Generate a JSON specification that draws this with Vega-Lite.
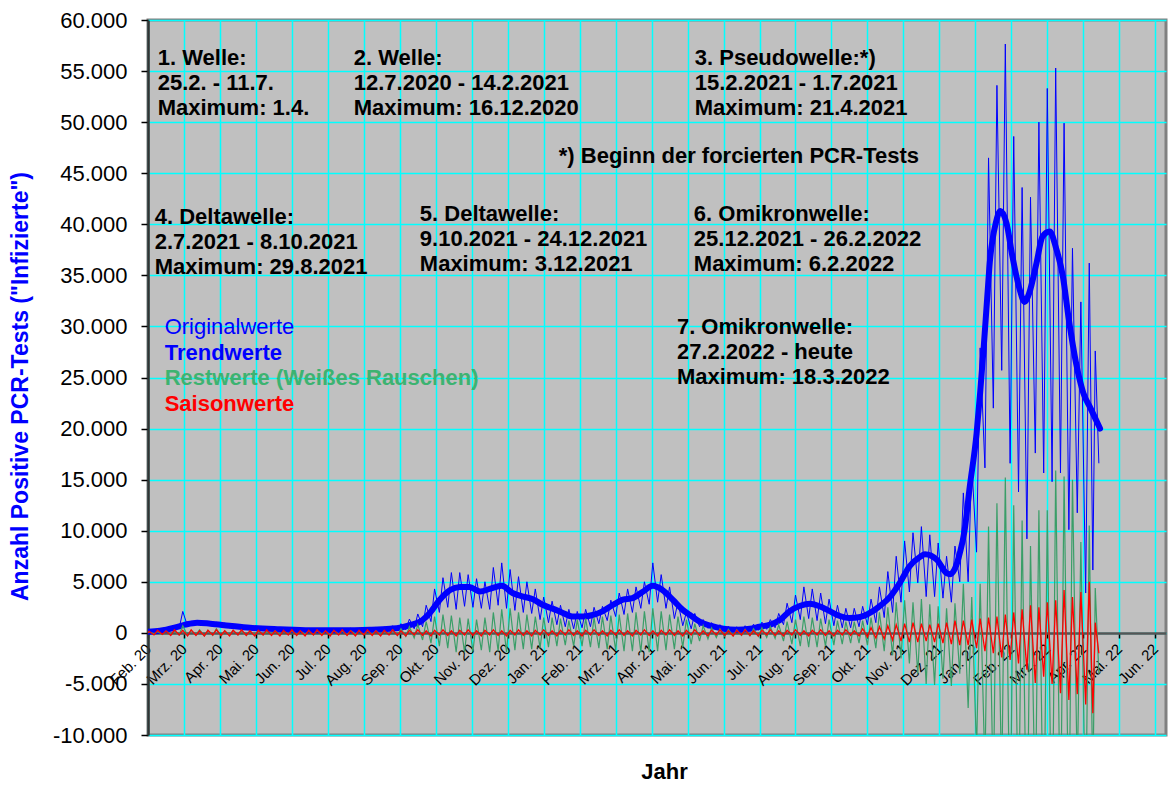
{
  "$schema": "https://vega.github.io/schema/vega-lite/v6.json",
  "width": 1018,
  "height": 715,
  "autosize": {"type": "none"},
  "padding": {"left": 148, "top": 20, "right": 6, "bottom": 50},
  "background": "#FFFFFF",
  "config": {
    "font": "Liberation Sans",
    "view": {"fill": "#C0C0C0", "stroke": "#808080", "strokeWidth": 3}
  },
  "datasets": {
    "werte": [
      {"t":0,"o":0,"r":0,"s":0},
      {"t":1,"o":250,"r":100,"s":150},{"t":5,"o":20,"r":-80,"s":-200},
      {"t":8,"o":350,"r":120,"s":250},{"t":12,"o":80,"r":-150,"s":-150},
      {"t":15,"o":480,"r":150,"s":200},{"t":19,"o":250,"r":-120,"s":-250},
      {"t":22,"o":700,"r":180,"s":300},{"t":26,"o":450,"r":-200,"s":-200},
      {"t":29,"o":2100,"r":700,"s":250},{"t":33,"o":650,"r":-250,"s":-300},
      {"t":36,"o":1150,"r":250,"s":300},{"t":40,"o":800,"r":-200,"s":-250},
      {"t":43,"o":1250,"r":300,"s":200},{"t":47,"o":700,"r":-300,"s":-300},
      {"t":50,"o":1150,"r":250,"s":250},{"t":54,"o":650,"r":-250,"s":-200},
      {"t":57,"o":1050,"r":400,"s":300},{"t":61,"o":600,"r":-300,"s":-250},
      {"t":64,"o":950,"r":200,"s":200},{"t":68,"o":500,"r":-200,"s":-300},
      {"t":71,"o":850,"r":250,"s":250},{"t":75,"o":450,"r":-200,"s":-200},
      {"t":78,"o":780,"r":200,"s":300},{"t":82,"o":380,"r":-250,"s":-250},
      {"t":85,"o":700,"r":150,"s":200},{"t":89,"o":330,"r":-150,"s":-300},
      {"t":92,"o":620,"r":200,"s":250},{"t":96,"o":300,"r":-200,"s":-200},
      {"t":99,"o":580,"r":150,"s":300},{"t":103,"o":260,"r":-150,"s":-250},
      {"t":106,"o":540,"r":200,"s":200},{"t":110,"o":230,"r":-150,"s":-300},
      {"t":113,"o":500,"r":150,"s":250},{"t":117,"o":200,"r":-100,"s":-200},
      {"t":120,"o":460,"r":200,"s":300},{"t":124,"o":180,"r":-150,"s":-250},
      {"t":127,"o":430,"r":150,"s":200},{"t":131,"o":150,"r":-100,"s":-300},
      {"t":134,"o":400,"r":150,"s":250},{"t":138,"o":140,"r":-150,"s":-200},
      {"t":141,"o":420,"r":200,"s":300},{"t":145,"o":150,"r":-100,"s":-250},
      {"t":148,"o":400,"r":150,"s":200},{"t":152,"o":130,"r":-150,"s":-300},
      {"t":155,"o":430,"r":200,"s":250},{"t":159,"o":150,"r":-100,"s":-200},
      {"t":162,"o":420,"r":150,"s":300},{"t":166,"o":160,"r":-150,"s":-250},
      {"t":169,"o":450,"r":200,"s":200},{"t":173,"o":170,"r":-100,"s":-300},
      {"t":176,"o":460,"r":150,"s":250},{"t":180,"o":180,"r":-150,"s":-200},
      {"t":183,"o":480,"r":200,"s":300},{"t":187,"o":190,"r":-150,"s":-250},
      {"t":190,"o":520,"r":200,"s":200},{"t":194,"o":220,"r":-150,"s":-300},
      {"t":197,"o":560,"r":200,"s":250},{"t":201,"o":250,"r":-150,"s":-200},
      {"t":204,"o":700,"r":300,"s":300},{"t":208,"o":230,"r":-250,"s":-250},
      {"t":211,"o":900,"r":400,"s":200},{"t":215,"o":300,"r":-350,"s":-300},
      {"t":218,"o":1350,"r":600,"s":250},{"t":222,"o":400,"r":-500,"s":-200},
      {"t":225,"o":1850,"r":800,"s":300},{"t":229,"o":600,"r":-700,"s":-250},
      {"t":232,"o":2700,"r":1100,"s":200},{"t":236,"o":1100,"r":-1000,"s":-300},
      {"t":239,"o":4300,"r":1600,"s":250},{"t":243,"o":2000,"r":-1300,"s":-200},
      {"t":246,"o":5400,"r":1800,"s":300},{"t":250,"o":2500,"r":-1500,"s":-250},
      {"t":253,"o":5900,"r":1700,"s":200},{"t":257,"o":2300,"r":-1900,"s":-300},
      {"t":260,"o":5900,"r":1500,"s":250},{"t":264,"o":2600,"r":-1900,"s":-200},
      {"t":267,"o":5700,"r":1400,"s":300},{"t":271,"o":2500,"r":-1800,"s":-250},
      {"t":274,"o":5300,"r":1300,"s":200},{"t":278,"o":2400,"r":-1700,"s":-300},
      {"t":281,"o":5000,"r":1500,"s":250},{"t":285,"o":2300,"r":-1900,"s":-200},
      {"t":288,"o":6400,"r":2000,"s":300},{"t":292,"o":2700,"r":-1800,"s":-250},
      {"t":295,"o":6850,"r":2300,"s":200},{"t":299,"o":2400,"r":-1900,"s":-300},
      {"t":302,"o":6200,"r":2400,"s":250},{"t":306,"o":2200,"r":-1700,"s":-200},
      {"t":309,"o":5500,"r":2000,"s":300},{"t":313,"o":2000,"r":-1600,"s":-250},
      {"t":316,"o":5000,"r":1800,"s":200},{"t":320,"o":1900,"r":-1600,"s":-300},
      {"t":323,"o":4300,"r":1600,"s":250},{"t":327,"o":1300,"r":-1500,"s":-200},
      {"t":330,"o":3500,"r":1500,"s":300},{"t":334,"o":1000,"r":-1400,"s":-250},
      {"t":337,"o":3100,"r":1500,"s":200},{"t":341,"o":800,"r":-1300,"s":-300},
      {"t":344,"o":2700,"r":1400,"s":250},{"t":348,"o":600,"r":-1200,"s":-200},
      {"t":351,"o":2300,"r":1200,"s":300},{"t":355,"o":400,"r":-1300,"s":-250},
      {"t":358,"o":2100,"r":1300,"s":200},{"t":362,"o":500,"r":-1300,"s":-300},
      {"t":365,"o":2300,"r":1400,"s":250},{"t":369,"o":600,"r":-1400,"s":-200},
      {"t":372,"o":2500,"r":1500,"s":300},{"t":376,"o":900,"r":-1500,"s":-250},
      {"t":379,"o":2600,"r":1600,"s":200},{"t":383,"o":1200,"r":-1600,"s":-300},
      {"t":386,"o":3200,"r":1700,"s":250},{"t":390,"o":1600,"r":-1700,"s":-200},
      {"t":393,"o":3900,"r":1800,"s":300},{"t":397,"o":1800,"r":-1800,"s":-250},
      {"t":400,"o":4300,"r":1900,"s":200},{"t":404,"o":2000,"r":-1800,"s":-300},
      {"t":407,"o":4500,"r":2000,"s":250},{"t":411,"o":2400,"r":-1900,"s":-200},
      {"t":414,"o":5000,"r":2100,"s":300},{"t":418,"o":2800,"r":-1900,"s":-250},
      {"t":421,"o":6850,"r":2400,"s":200},{"t":425,"o":3000,"r":-1800,"s":-300},
      {"t":428,"o":5700,"r":2100,"s":250},{"t":432,"o":2400,"r":-1700,"s":-200},
      {"t":435,"o":4500,"r":1800,"s":300},{"t":439,"o":1400,"r":-1600,"s":-250},
      {"t":442,"o":3000,"r":1600,"s":200},{"t":446,"o":700,"r":-1400,"s":-300},
      {"t":449,"o":2000,"r":1300,"s":250},{"t":453,"o":400,"r":-1100,"s":-200},
      {"t":456,"o":1900,"r":900,"s":300},{"t":460,"o":600,"r":-800,"s":-250},
      {"t":463,"o":1300,"r":700,"s":200},{"t":467,"o":450,"r":-600,"s":-300},
      {"t":470,"o":1000,"r":500,"s":250},{"t":474,"o":300,"r":-450,"s":-200},
      {"t":477,"o":800,"r":400,"s":300},{"t":481,"o":150,"r":-350,"s":-250},
      {"t":484,"o":650,"r":350,"s":200},{"t":488,"o":100,"r":-300,"s":-300},
      {"t":491,"o":600,"r":300,"s":250},{"t":495,"o":100,"r":-250,"s":-200},
      {"t":498,"o":700,"r":350,"s":300},{"t":502,"o":150,"r":-300,"s":-250},
      {"t":505,"o":850,"r":400,"s":200},{"t":509,"o":250,"r":-350,"s":-300},
      {"t":512,"o":1050,"r":500,"s":250},{"t":516,"o":350,"r":-450,"s":-200},
      {"t":519,"o":1300,"r":600,"s":300},{"t":523,"o":500,"r":-550,"s":-250},
      {"t":526,"o":1900,"r":800,"s":200},{"t":530,"o":800,"r":-800,"s":-300},
      {"t":533,"o":2900,"r":1100,"s":250},{"t":537,"o":1000,"r":-1100,"s":-200},
      {"t":540,"o":3700,"r":1300,"s":300},{"t":544,"o":1300,"r":-1300,"s":-250},
      {"t":547,"o":4500,"r":1600,"s":200},{"t":551,"o":1400,"r":-1400,"s":-300},
      {"t":554,"o":4300,"r":1500,"s":250},{"t":558,"o":1200,"r":-1400,"s":-200},
      {"t":561,"o":3900,"r":1400,"s":300},{"t":565,"o":900,"r":-1300,"s":-250},
      {"t":568,"o":3300,"r":1300,"s":200},{"t":572,"o":700,"r":-1200,"s":-300},
      {"t":575,"o":2700,"r":1200,"s":250},{"t":579,"o":500,"r":-1100,"s":-200},
      {"t":582,"o":2400,"r":1100,"s":300},{"t":586,"o":500,"r":-1000,"s":-250},
      {"t":589,"o":2400,"r":1100,"s":200},{"t":593,"o":600,"r":-1000,"s":-300},
      {"t":596,"o":2600,"r":1200,"s":400},{"t":600,"o":800,"r":-1200,"s":-400},
      {"t":603,"o":3300,"r":1500,"s":500},{"t":607,"o":1000,"r":-1500,"s":-500},
      {"t":610,"o":4500,"r":2000,"s":600},{"t":614,"o":1500,"r":-1800,"s":-600},
      {"t":617,"o":6000,"r":2500,"s":700},{"t":621,"o":2000,"r":-2200,"s":-700},
      {"t":624,"o":7500,"r":3000,"s":800},{"t":628,"o":3000,"r":-2500,"s":-800},
      {"t":631,"o":9000,"r":3200,"s":900},{"t":635,"o":4000,"r":-3000,"s":-900},
      {"t":638,"o":9800,"r":3000,"s":1000},{"t":642,"o":4900,"r":-4000,"s":-900},
      {"t":645,"o":10400,"r":3300,"s":900},{"t":649,"o":3550,"r":-5000,"s":-800},
      {"t":652,"o":9600,"r":2800,"s":800},{"t":656,"o":3550,"r":-5100,"s":-900},
      {"t":659,"o":8800,"r":2600,"s":900},{"t":663,"o":3400,"r":-4500,"s":-1000},
      {"t":666,"o":7500,"r":2400,"s":1000},{"t":670,"o":3000,"r":-5200,"s":-1100},
      {"t":673,"o":8500,"r":2900,"s":1200},{"t":677,"o":5000,"r":-4000,"s":-1200},
      {"t":680,"o":13700,"r":4800,"s":1200},{"t":684,"o":5000,"r":-7350,"s":-1200},
      {"t":687,"o":16600,"r":3500,"s":1300},{"t":691,"o":7900,"r":-11600,"s":-1500},
      {"t":694,"o":27900,"r":4800,"s":1400},{"t":698,"o":16150,"r":-13500,"s":-1800},
      {"t":701,"o":46500,"r":10400,"s":1500},{"t":705,"o":22000,"r":-16500,"s":-2000},
      {"t":708,"o":53600,"r":12700,"s":1600},{"t":712,"o":25700,"r":-15400,"s":-2400},
      {"t":715,"o":57650,"r":15200,"s":1800},{"t":719,"o":16600,"r":-21500,"s":-2650},
      {"t":722,"o":48600,"r":12500,"s":2000},{"t":726,"o":13800,"r":-20300,"s":-3000},
      {"t":729,"o":43600,"r":11000,"s":2300},{"t":733,"o":9200,"r":-23600,"s":-3600},
      {"t":736,"o":42650,"r":8500,"s":2700},{"t":740,"o":17600,"r":-18100,"s":-4900},
      {"t":743,"o":50000,"r":12000,"s":2500},{"t":747,"o":15650,"r":-23250,"s":-4300},
      {"t":750,"o":53300,"r":12000,"s":3000},{"t":754,"o":14800,"r":-24000,"s":-5000},
      {"t":757,"o":55300,"r":15900,"s":3200},{"t":761,"o":15650,"r":-20250,"s":-5900},
      {"t":764,"o":49900,"r":15300,"s":4200},{"t":768,"o":10100,"r":-20550,"s":-6560},
      {"t":771,"o":37650,"r":15000,"s":3500},{"t":775,"o":11750,"r":-14150,"s":-6000},
      {"t":778,"o":32400,"r":8900,"s":4000},{"t":782,"o":3900,"r":-19100,"s":-7000},
      {"t":785,"o":36200,"r":10500,"s":5000},{"t":788,"o":6150,"r":-15350,"s":-7860},
      {"t":790,"o":27600,"r":4400,"s":1000},{"t":793,"o":16600,"r":-4000,"s":-2000}
    ],
    "trend": [
      {"t":0,"v":100},{"t":10,"v":200},{"t":22,"v":500},{"t":31,"v":800},{"t":41,"v":1000},{"t":52,"v":900},{"t":68,"v":700},{"t":85,"v":500},{"t":110,"v":350},{"t":135,"v":250},{"t":160,"v":250},{"t":185,"v":300},{"t":202,"v":400},{"t":210,"v":500},{"t":218,"v":750},{"t":227,"v":1100},{"t":235,"v":1950},{"t":243,"v":3200},{"t":252,"v":4200},{"t":260,"v":4500},{"t":268,"v":4500},{"t":277,"v":4050},{"t":285,"v":4300},{"t":295,"v":4600},{"t":304,"v":3900},{"t":313,"v":3550},{"t":321,"v":3300},{"t":329,"v":2750},{"t":338,"v":2350},{"t":346,"v":1950},{"t":354,"v":1600},{"t":363,"v":1600},{"t":371,"v":1750},{"t":379,"v":2100},{"t":388,"v":2750},{"t":396,"v":3250},{"t":404,"v":3400},{"t":413,"v":4050},{"t":421,"v":4600},{"t":429,"v":4200},{"t":438,"v":3200},{"t":446,"v":2250},{"t":452,"v":1750},{"t":460,"v":1100},{"t":469,"v":700},{"t":480,"v":400},{"t":491,"v":300},{"t":502,"v":400},{"t":510,"v":600},{"t":519,"v":800},{"t":527,"v":1250},{"t":535,"v":2100},{"t":544,"v":2650},{"t":552,"v":2850},{"t":560,"v":2600},{"t":569,"v":2100},{"t":577,"v":1650},{"t":585,"v":1450},{"t":594,"v":1550},{"t":602,"v":1950},{"t":610,"v":2600},{"t":619,"v":3550},{"t":627,"v":4900},{"t":635,"v":6500},{"t":644,"v":7450},{"t":648,"v":7700},{"t":658,"v":7150},{"t":666,"v":5850},{"t":669,"v":5750},{"t":673,"v":6300},{"t":677,"v":7800},{"t":681,"v":10000},{"t":685,"v":14000},{"t":691,"v":19500},{"t":694,"v":23500},{"t":697,"v":28000},{"t":700,"v":33000},{"t":702,"v":36200},{"t":707,"v":40100},{"t":711,"v":41300},{"t":716,"v":40100},{"t":721,"v":36800},{"t":727,"v":33600},{"t":731,"v":32400},{"t":735,"v":33300},{"t":741,"v":36200},{"t":746,"v":38800},{"t":752,"v":39300},{"t":757,"v":37800},{"t":763,"v":34900},{"t":768,"v":30650},{"t":774,"v":26400},{"t":780,"v":23500},{"t":786,"v":22000},{"t":794,"v":20000}
    ],
    "texte": [
      {"t":8.1,"v":55600,"txt":"1. Welle:\n25.2. - 11.7.\nMaximum: 1.4."},
      {"t":171.6,"v":55600,"txt":"2. Welle:\n12.7.2020 - 14.2.2021\nMaximum: 16.12.2020"},
      {"t":456,"v":55600,"txt":"3. Pseudowelle:*)\n15.2.2021 - 1.7.2021\nMaximum: 21.4.2021"},
      {"t":342.6,"v":46000,"txt":"*) Beginn der forcierten PCR-Tests"},
      {"t":5.6,"v":40050,"txt":"4. Deltawelle:\n2.7.2021 - 8.10.2021\nMaximum: 29.8.2021"},
      {"t":226.7,"v":40350,"txt":"5. Deltawelle:\n9.10.2021 - 24.12.2021\nMaximum: 3.12.2021"},
      {"t":455.2,"v":40350,"txt":"6. Omikronwelle:\n25.12.2021 - 26.2.2022\nMaximum: 6.2.2022"},
      {"t":441.1,"v":29270,"txt":"7. Omikronwelle:\n27.2.2022 - heute\nMaximum: 18.3.2022"}
    ],
    "legende": [
      {"t":13.9,"v":26730,"txt":"Trendwerte"},
      {"t":13.9,"v":24280,"txt":"Restwerte (Weißes Rauschen)"},
      {"t":13.9,"v":21730,"txt":"Saisonwerte"}
    ],
    "legende0": [
      {"t":13.9,"v":29270,"txt":"Originalwerte"}
    ]
  },
  "encoding": {
    "x": {
      "field": "t", "type": "quantitative", "title": "Jahr",
      "scale": {"domain": [0, 849], "nice": false, "zero": false},
      "axis": {
        "values": [0,30,60,90,120,150,180,210,240,270,300,330,360,390,420,450,480,510,540,570,600,630,660,690,720,750,780,810,840],
        "labelExpr": "['Feb. 20','Mrz. 20','Apr. 20','Mai. 20','Jun. 20','Jul. 20','Aug. 20','Sep. 20','Okt. 20','Nov. 20','Dez. 20','Jan. 21','Feb. 21','Mrz. 21','Apr. 21','Mai. 21','Jun. 21','Jul. 21','Aug. 21','Sep. 21','Okt. 21','Nov. 21','Dez. 21','Jan. 22','Feb. 22','Mrz. 22','Apr. 22','Mai. 22','Jun. 22'][round(datum.value/30)]",
        "labelAngle": -45, "labelAlign": "right", "labelBaseline": "middle",
        "labelFontSize": 15, "labelFont": "Liberation Sans", "labelColor": "#000000",
        "labelPadding": 8, "labelOverlap": false, "labelFlush": false, "labelBound": false,
        "tickSize": 5, "tickColor": "#000000", "tickWidth": 1.5,
        "domainColor": "#555555", "domainWidth": 2.5, "offset": -102,
        "grid": true, "gridColor": "#00FFFF", "gridWidth": 1.5, "gridOpacity": 1,
        "titleFontSize": 22, "titleFont": "Liberation Sans", "titleFontWeight": "bold", "titleColor": "#000000",
        "titleX": 516, "titleY": 138, "titleAlign": "center", "titleBaseline": "middle"
      }
    }
  },
  "layer": [
    {
      "data": {"name": "werte"},
      "mark": {"type": "line", "color": "#0000FF", "strokeWidth": 1, "clip": true},
      "encoding": {
        "y": {
          "field": "o", "type": "quantitative", "title": "Anzahl Positive  PCR-Tests (\"Infizierte\")",
          "scale": {"domain": [-10000, 60000], "nice": false, "zero": false},
          "axis": {
            "values": [-10000,-5000,0,5000,10000,15000,20000,25000,30000,35000,40000,45000,50000,55000,60000],
            "labelExpr": "replace(replace(format(datum.value, ','), ',', '.'), '\u2212', '-')",
            "labelFontSize": 22, "labelFont": "Liberation Sans", "labelColor": "#000000",
            "labelPadding": 14, "tickSize": 7, "tickColor": "#000000", "tickWidth": 1.5,
            "domainColor": "#333333", "domainWidth": 2.5,
            "grid": true, "gridColor": "#00FFFF", "gridWidth": 1.5, "gridOpacity": 1,
            "titleFontSize": 23, "titleFont": "Liberation Sans", "titleFontWeight": "bold", "titleColor": "#0000FF",
            "titleX": -128, "titleY": 366, "titleAngle": -90, "titleAlign": "center", "titleBaseline": "middle"
          }
        }
      }
    },
    {
      "data": {"name": "trend"},
      "mark": {"type": "line", "color": "#0000FF", "strokeWidth": 6, "strokeCap": "round", "strokeJoin": "round", "interpolate": "monotone", "clip": true},
      "encoding": {
        "y": {"field": "v", "type": "quantitative", "title": "Anzahl Positive  PCR-Tests (\"Infizierte\")", "scale": {"domain": [-10000, 60000], "nice": false, "zero": false}}
      }
    },
    {
      "data": {"name": "werte"},
      "mark": {"type": "line", "color": "#3A9E68", "strokeWidth": 1.2, "clip": true},
      "encoding": {
        "y": {"field": "r", "type": "quantitative", "title": "Anzahl Positive  PCR-Tests (\"Infizierte\")", "scale": {"domain": [-10000, 60000], "nice": false, "zero": false}}
      }
    },
    {
      "data": {"name": "werte"},
      "mark": {"type": "line", "color": "#FF0000", "strokeWidth": 1.3, "clip": true},
      "encoding": {
        "y": {"field": "s", "type": "quantitative", "title": "Anzahl Positive  PCR-Tests (\"Infizierte\")", "scale": {"domain": [-10000, 60000], "nice": false, "zero": false}}
      }
    },
    {
      "data": {"name": "texte"},
      "mark": {"type": "text", "align": "left", "baseline": "alphabetic", "fontSize": 22, "fontWeight": "bold", "font": "Liberation Sans", "color": "#000000", "lineBreak": "\n", "lineHeight": 25},
      "encoding": {
        "y": {"field": "v", "type": "quantitative", "title": "Anzahl Positive  PCR-Tests (\"Infizierte\")", "scale": {"domain": [-10000, 60000], "nice": false, "zero": false}},
        "text": {"field": "txt", "type": "nominal"}
      }
    },
    {
      "data": {"name": "legende0"},
      "mark": {"type": "text", "align": "left", "baseline": "alphabetic", "fontSize": 22, "fontWeight": "normal", "font": "Liberation Sans", "color": "#0000FF"},
      "encoding": {
        "y": {"field": "v", "type": "quantitative", "title": "Anzahl Positive  PCR-Tests (\"Infizierte\")", "scale": {"domain": [-10000, 60000], "nice": false, "zero": false}},
        "text": {"field": "txt", "type": "nominal"}
      }
    },
    {
      "data": {"name": "legende"},
      "mark": {"type": "text", "align": "left", "baseline": "alphabetic", "fontSize": 22, "fontWeight": "bold", "font": "Liberation Sans"},
      "encoding": {
        "y": {"field": "v", "type": "quantitative", "title": "Anzahl Positive  PCR-Tests (\"Infizierte\")", "scale": {"domain": [-10000, 60000], "nice": false, "zero": false}},
        "text": {"field": "txt", "type": "nominal"},
        "color": {"field": "txt", "type": "nominal", "legend": null, "scale": {"domain": ["Trendwerte", "Restwerte (Weißes Rauschen)", "Saisonwerte"], "range": ["#0000FF", "#3CB371", "#FF0000"]}}
      }
    }
  ]
}
